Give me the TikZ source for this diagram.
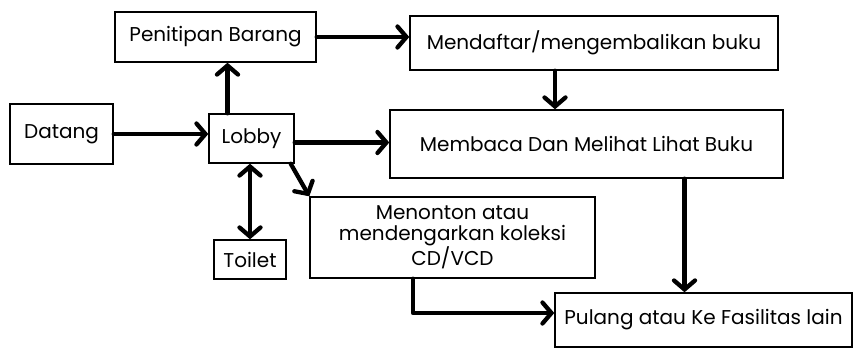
\documentclass[tikz,border=0pt]{standalone}
\usepackage{fontspec}
\setmainfont{Poppins}
\usetikzlibrary{arrows.meta}
\tikzset{
  barb/.tip={Straight Barb[length=9pt,width=21pt,line cap=round]},
  box/.style={draw, line width=1.4pt, inner sep=1pt, align=center,
              font=\fontsize{20}{20.5}\selectfont},
  flow/.style={line width=4.3pt, line cap=round, line join=round, -{barb}},
  flowboth/.style={line width=4.3pt, line cap=round, line join=round, {barb}-{barb}}
}
\begin{document}
\begin{tikzpicture}[x=1pt,y=-1pt]
\useasboundingbox (0,0) rectangle (856,351);
% boxes
\node[box, minimum width=201pt, minimum height=50pt] (pen) at (215.5,37) {Penitipan Barang};
\node[box, minimum width=103pt, minimum height=60pt] (datang) at (61.5,134) {Datang};
\node[box, minimum width=85pt, minimum height=49pt] (lobby) at (251.5,138.5) {Lobby};
\node[box, minimum width=72pt, minimum height=39pt] (toilet) at (250,259.5) {Toilet};
\node[box, minimum width=368pt, minimum height=54pt] (daftar) at (594,43) {Mendaftar/mengembalikan buku};
\node[box, minimum width=393pt, minimum height=68pt] (baca) at (586.5,144) {Membaca Dan Melihat Lihat Buku};
\node[box, minimum width=285pt, minimum height=81pt] (nonton) at (452.5,237.5) {Menonton atau\\mendengarkan koleksi\\CD/VCD};
\node[box, minimum width=297pt, minimum height=54pt] (pulang) at (703.5,320) {Pulang atau Ke Fasilitas lain};
% connectors
\draw[flow] (datang.east) -- (datang.east -| lobby.west);
\draw[flow] ([xshift=-24pt]lobby.north) -- ([xshift=-24pt]lobby.north |- pen.south);
\draw[flow] (pen.east) -- (pen.east -| daftar.west);
\draw[flow] ([yshift=-4pt]lobby.east) -- ([yshift=-4pt]lobby.east -| baca.west);
\draw[flow] ([xshift=-39pt]daftar.south) -- ([xshift=-39pt]daftar.south |- baca.north);
\draw[flowboth] (toilet.north |- lobby.south) -- (toilet.north);
\draw[flow] ([xshift=-4pt]lobby.south east) -- (nonton.north west);
\draw[flow] ([xshift=-39.5pt]nonton.south) |- ([yshift=7pt]pulang.west);
\draw[flow] ([xshift=98pt]baca.south) -- ([xshift=98pt]baca.south |- pulang.north);
\end{tikzpicture}
\end{document}
